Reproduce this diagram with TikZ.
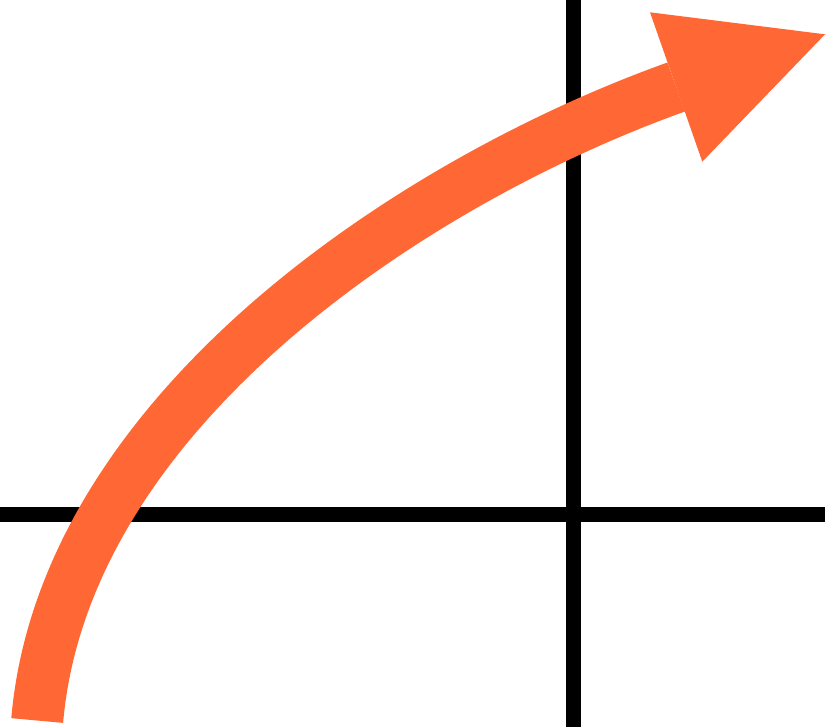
\documentclass[tikz,border=0pt]{standalone}
\definecolor{arroworange}{RGB}{255,104,53}
\begin{document}
\begin{tikzpicture}[x=0.01cm,y=-0.01cm,line width=4.2pt]
  \useasboundingbox (0,0) rectangle (825,727);
  \coordinate (L) at (0,514.8);
  \coordinate (R) at (825,514.8);
  \coordinate (T) at (573.8,0);
  \coordinate (B) at (573.8,727);
  \coordinate (S) at (37.2,720.5);
  \coordinate (C1) at (64,411.7);
  \coordinate (C2) at (412.6,181.4);
  \coordinate (E) at (676.2,87);
  \coordinate (P) at (650,12.3);
  \coordinate (Q) at (825,34.3);
  \coordinate (U) at (702.3,161.7);
  \draw (L)--(R) (T)--(B);
  \draw[arroworange,line width=14.8pt] (S) .. controls (C1) and (C2) .. (E);
  \fill[arroworange] (P)--(Q)--(U)--cycle;
\end{tikzpicture}
\end{document}
